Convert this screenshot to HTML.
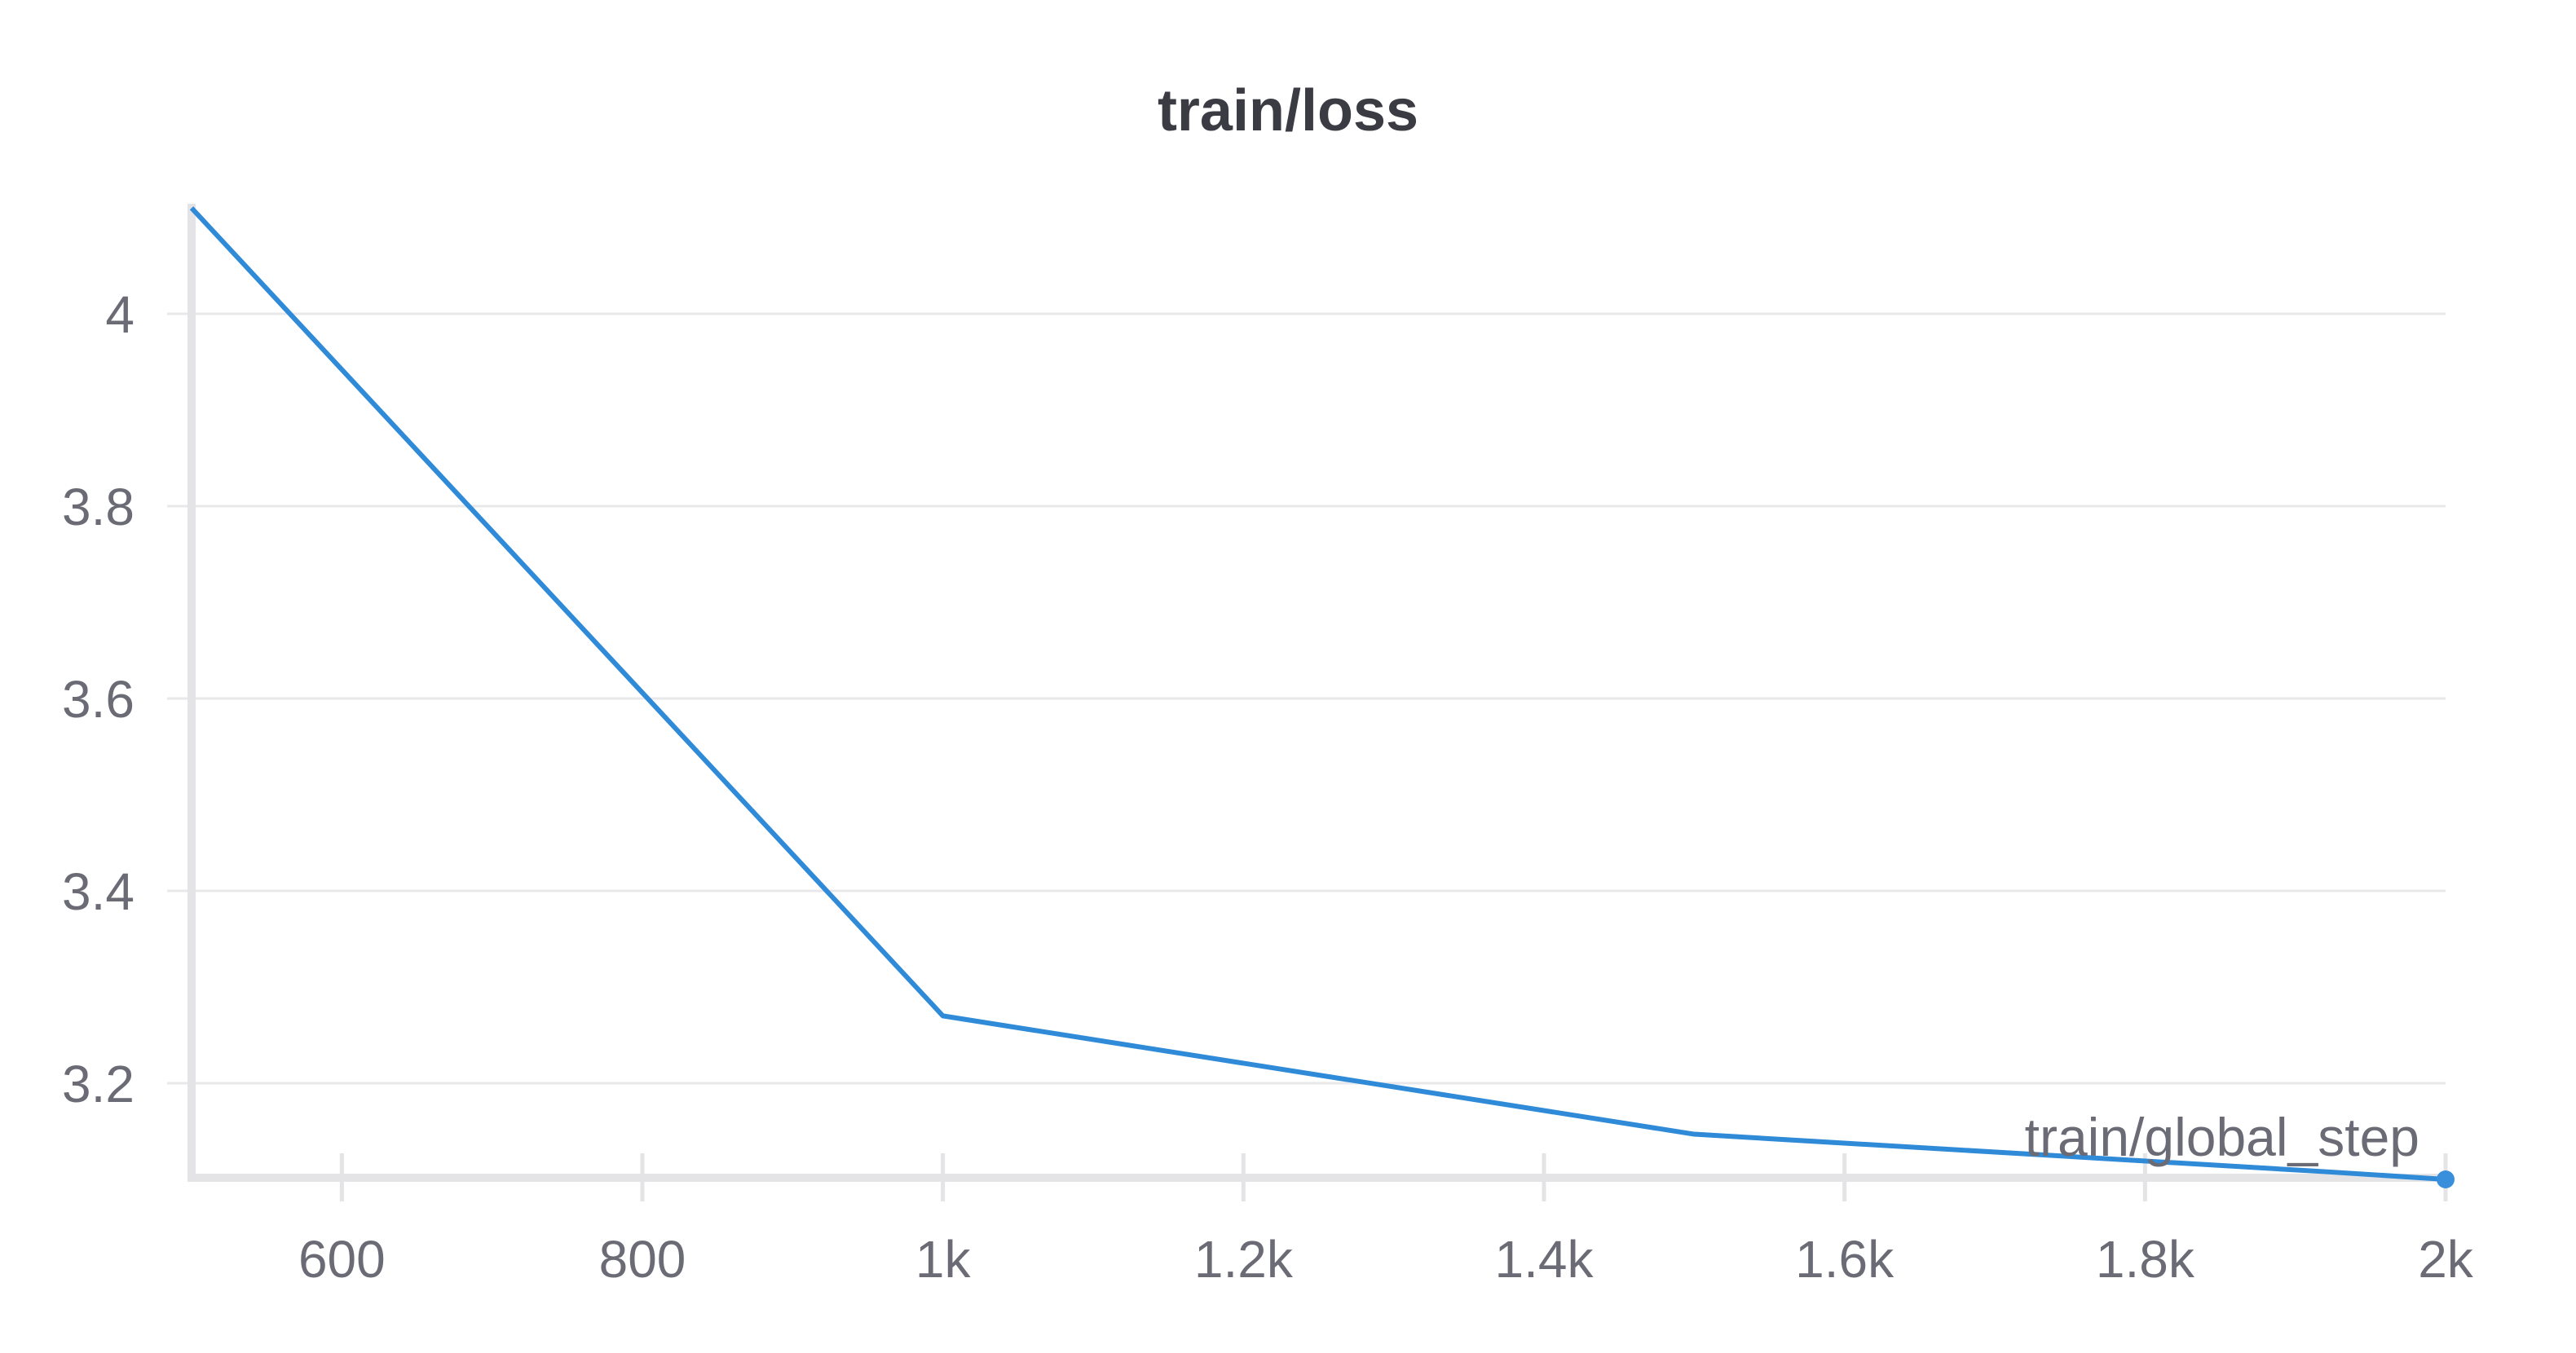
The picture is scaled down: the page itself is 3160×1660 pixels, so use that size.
<!DOCTYPE html>
<html><head><meta charset="utf-8"><style>
html,body{margin:0;padding:0;background:#fff;}
svg{display:block;font-family:"Liberation Sans",sans-serif;}
</style></head><body>
<svg id="chart" width="3160" height="1660" viewBox="0 0 3160 1660">
<text x="1580" y="160" text-anchor="middle" font-size="72" font-weight="bold" fill="#3b3b44">train/loss</text>
<g id="grid"></g><g id="axes"></g><g id="series"></g>
<text x="2968" y="1418" text-anchor="end" font-size="66" fill="#6b6b76">train/global_step</text>
</svg>
<script>
const steps=[500,1000,1500,1920,2000];
const loss=[4.11,3.27,3.147,3.108,3.10];
const xTicks=[600,800,1000,1200,1400,1600,1800,2000];
const xTickLabels=['600','800','1k','1.2k','1.4k','1.6k','1.8k','2k'];
const yTicks=[3.2,3.4,3.6,3.8,4];
const yTickLabels=['3.2','3.4','3.6','3.8','4'];
const NS='http://www.w3.org/2000/svg';
const x=v=>235+(v-500)*(3000-235)/1500;
const y=v=>385+(4-v)*1180;
function mk(t,a,p){const e=document.createElementNS(NS,t);for(const k in a)e.setAttribute(k,a[k]);p.appendChild(e);return e;}
const grid=document.getElementById('grid'),axes=document.getElementById('axes'),ser=document.getElementById('series');
yTicks.forEach((v,i)=>{
 const g=mk('line',{x1:205,x2:3000,y1:y(v),y2:y(v),stroke:'#e8e8eb','stroke-width':3},grid);
 
 
 const t=mk('text',{x:165,y:y(v)+23,'text-anchor':'end','font-size':64,fill:'#6b6b76'},axes);
 t.textContent=yTickLabels[i];
 
 
});
const ya=mk('line',{x1:235,x2:235,y1:250,y2:1450,stroke:'#e4e4e7','stroke-width':10},axes);


const xa=mk('line',{x1:235,x2:3005,y1:1445,y2:1445,stroke:'#e4e4e7','stroke-width':10},axes);


xTicks.forEach((v,i)=>{
 const tk=mk('line',{x1:x(v),x2:x(v),y1:1415,y2:1474,stroke:'#e4e4e7','stroke-width':5},axes);
 
 
 const t=mk('text',{x:x(v),y:1567,'text-anchor':'middle','font-size':64,fill:'#6b6b76'},axes);
 t.textContent=xTickLabels[i];
 
 
});
const pl=mk('polyline',{points:steps.map((s,i)=>x(s)+','+y(loss[i])).join(' '),fill:'none',stroke:'#2f8ad8','stroke-width':6,'stroke-linejoin':'round'},ser);


const n=steps.length-1;
const dot=mk('circle',{cx:x(steps[n]),cy:y(loss[n]),r:11,fill:'#3a8fdc'},ser);


</script>
</body></html>
